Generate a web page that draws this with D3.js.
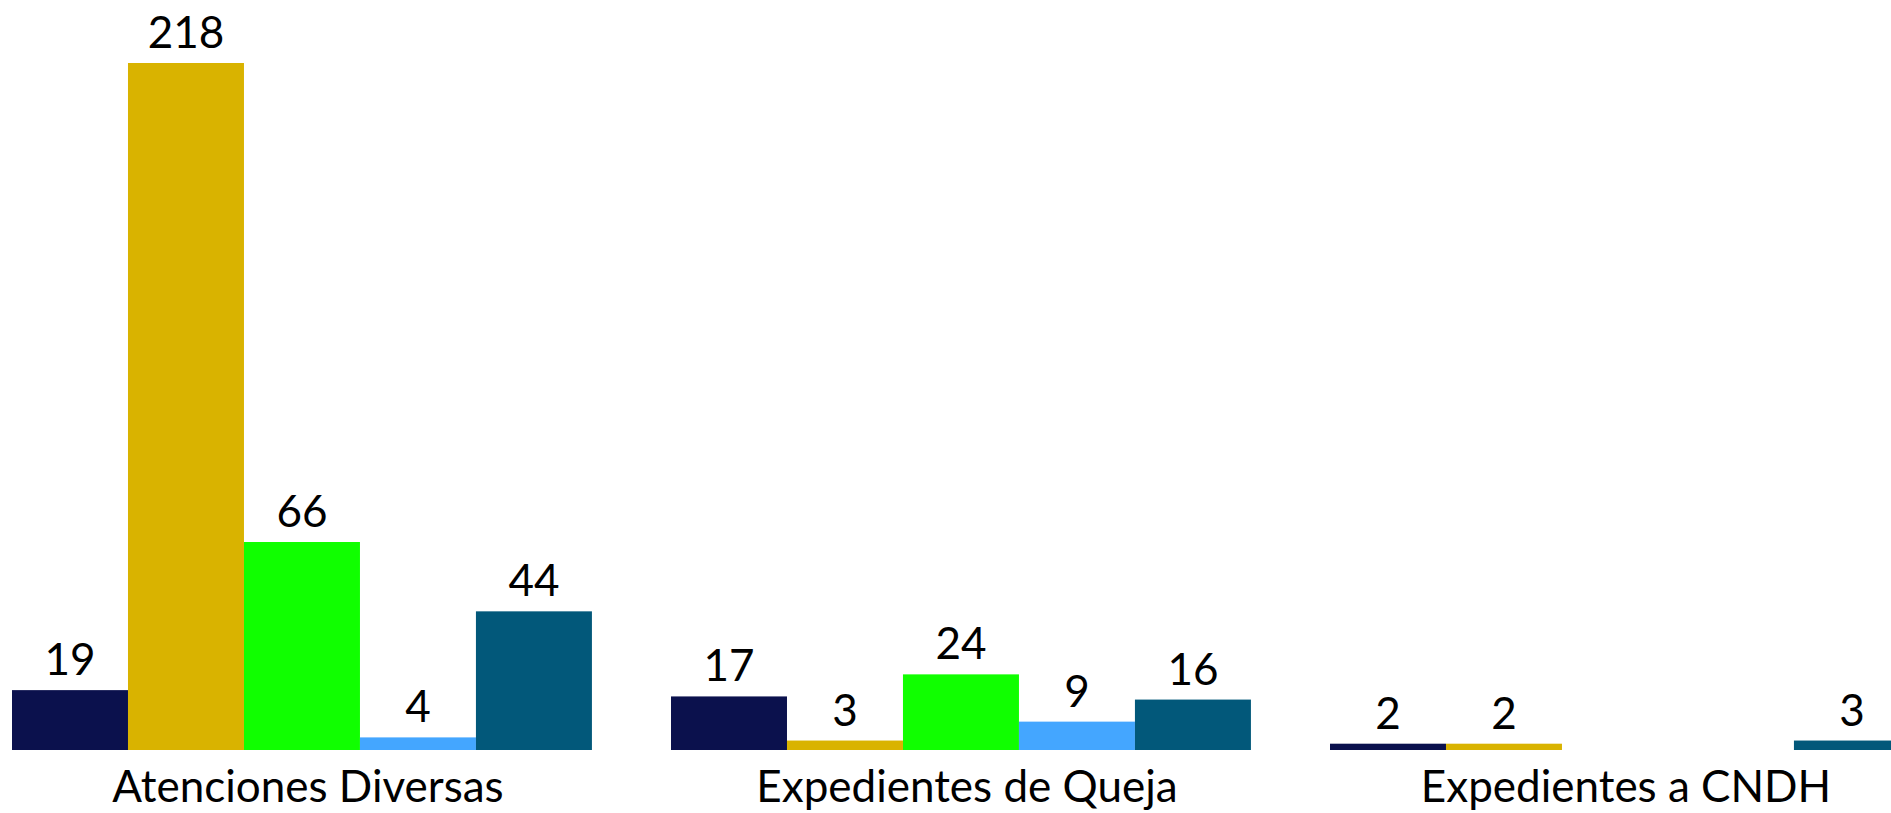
<!DOCTYPE html>
<html>
<head>
<meta charset="utf-8">
<script src="https://cdn.jsdelivr.net/npm/d3@7"></script>
<style>
  html, body { margin: 0; padding: 0; background: #ffffff; overflow: hidden; }
  svg { display: block; }
</style>
</head>
<body>
<svg id="chart" width="1891" height="813"></svg>
<script>
// ---- data ----
const categories = ["Atenciones Diversas", "Expedientes de Queja", "Expedientes a CNDH"];
const seriesNames = ["Serie 1", "Serie 2", "Serie 3", "Serie 4", "Serie 5"];
const serie1 = [19, 17, 2];
const serie2 = [218, 3, 2];
const serie3 = [66, 24, null];
const serie4 = [4, 9, null];
const serie5 = [44, 16, 3];
const seriesValues = [serie1, serie2, serie3, serie4, serie5];
const seriesColors = ["#0B114D", "#D9B300", "#10FF00", "#44A6FF", "#02587A"];

// ---- layout ----
const W = 1891, H = 813;
const baseY = 750, topY = 63;
const svg = d3.select("#chart");

const step = 659;
const x0 = d3.scaleBand()
  .domain(categories)
  .range([12 - 0.06 * step, 12 - 0.06 * step + 3 * step])
  .paddingInner(0.12)
  .paddingOuter(0.06);

const x1 = d3.scaleBand()
  .domain(seriesNames)
  .range([0, x0.bandwidth()])
  .padding(0);

const y = d3.scaleLinear()
  .domain([0, d3.max(seriesValues.flat())])
  .range([baseY, topY]);

const rows = [];
categories.forEach((c, ci) => {
  seriesNames.forEach((s, si) => {
    rows.push({ cat: c, series: s, value: seriesValues[si][ci], color: seriesColors[si] });
  });
});
const valid = rows.filter(d => d.value !== null && d.value !== undefined);

const g = svg.append("g");

g.selectAll("rect.bar")
  .data(valid)
  .join("rect")
  .attr("class", "bar")
  .attr("x", d => x0(d.cat) + x1(d.series))
  .attr("y", d => y(d.value))
  .attr("width", x1.bandwidth())
  .attr("height", d => baseY - y(d.value))
  .attr("fill", d => d.color);

g.selectAll("text.val")
  .data(valid)
  .join("text")
  .attr("class", "val")
  .attr("x", d => x0(d.cat) + x1(d.series) + x1.bandwidth() / 2)
  .attr("y", d => y(d.value) - 15)
  .attr("text-anchor", "middle")
  .attr("font-family", "Lato, 'Open Sans', sans-serif")
  .attr("font-size", 44)
  .attr("fill", "#000")
  .text(d => d.value);

// category axis labels
const xAxis = d3.axisBottom(x0).tickSize(0).tickPadding(0);
const ax = svg.append("g").attr("transform", `translate(6,${baseY})`).call(xAxis);
ax.select(".domain").remove();
ax.selectAll("text")
  .attr("y", 52)
  .attr("dy", 0)
  .attr("font-family", "Lato, 'Open Sans', sans-serif")
  .attr("font-size", 44)
  .attr("fill", "#000");
</script>
</body>
</html>
